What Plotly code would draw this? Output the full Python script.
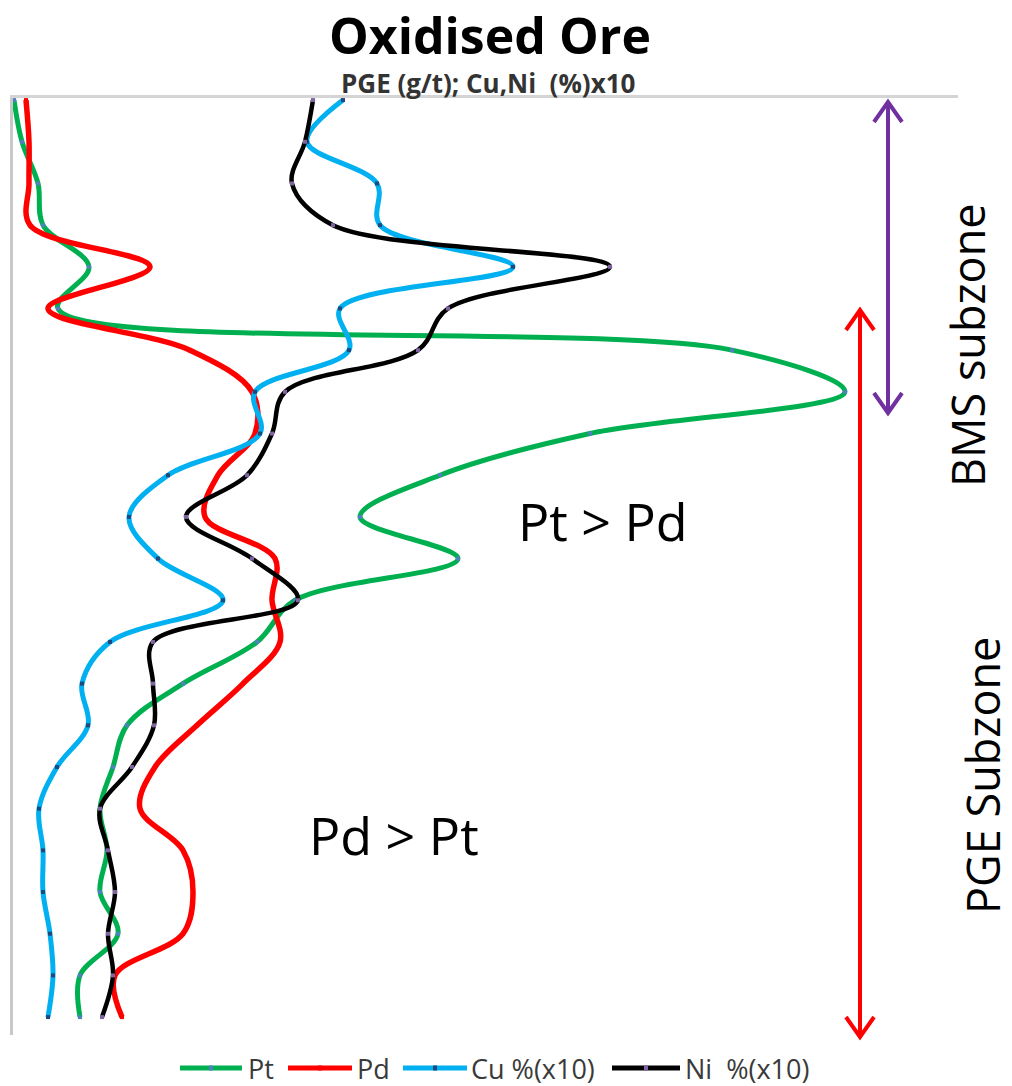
import plotly.graph_objects as go

# ---- data (depth sample index, top to bottom) ----
depth = [0, 1, 2, 3, 4, 5, 6, 7, 8, 9, 10, 11, 12, 13, 14, 15, 16, 17, 18, 19, 20, 21, 22]

pt = [0.01, 0.09, 0.25, 0.30, 0.76, 0.45, 7.19, 8.32, 5.77, 4.27, 3.47, 4.45,
      2.82, 2.44, 1.70, 1.14, 1.00, 0.87, 0.94, 0.87, 1.05, 0.67, 0.67]
pd_ = [0.13, 0.16, 0.16, 0.17, 1.37, 0.35, 1.77, 2.39, 2.42, 2.05, 1.92, 2.62,
       2.59, 2.67, 2.30, 1.84, 1.42, 1.27, 1.70, 1.80, 1.70, 1.02, 1.09]
cu = [3.30, 2.94, 3.64, 3.67, 5.00, 3.27, 3.36, 2.42, 2.47, 1.55, 1.16, 1.45,
      2.10, 0.97, 0.69, 0.75, 0.44, 0.26, 0.30, 0.30, 0.37, 0.40, 0.35]
ni = [3.00, 2.92, 2.79, 3.20, 5.97, 4.35, 4.05, 2.72, 2.59, 2.34, 1.73, 2.39,
      2.85, 1.40, 1.40, 1.41, 1.19, 0.87, 0.95, 1.02, 0.95, 1.00, 0.89]

names = ["Pt", "Pd", "Cu %(x10)", "Ni  %(x10)"]
series = [pt, pd_, cu, ni]
line_colors = ["#00b050", "#ff0000", "#00b0f0", "#000000"]
marker_colors = ["#4f81bd", "#ff0000", "#1f497d", "#8064a2"]
line_widths = [5, 5.5, 5, 4.5]

# page geometry (the page has an 8px body margin)
OFF = 8
W, H = 1012 - OFF, 1086 - OFF
L, R, T, B = 13, 958, 98, 1035  # plot area in page pixels


def px(x):
    return (x - L) / (R - L)


def py(y):
    return (B - y) / (B - T)


fig = go.Figure()
for name, vals, lc, mc, lw in zip(names, series, line_colors, marker_colors, line_widths):
    fig.add_trace(go.Scatter(
        x=vals, y=depth, name=name, mode="lines+markers", showlegend=False,
        line=dict(color=lc, width=lw, shape="spline", smoothing=1.0),
        marker=dict(color=mc, size=4, symbol="square", line=dict(width=0)),
    ))

shapes = []
# purple double arrow (BMS subzone)
pc = "#7030a0"
shapes.append(dict(type="line", xref="paper", yref="paper", x0=px(888), x1=px(888),
                   y0=py(104), y1=py(411), line=dict(color=pc, width=4)))
for tipy, d in [(102, 1), (413, -1)]:
    shapes.append(dict(type="path", xref="paper", yref="paper",
                       path="M{},{} L{},{} L{},{}".format(px(874), py(tipy + d * 20), px(888), py(tipy),
                                                        px(902), py(tipy + d * 20)),
                       line=dict(color=pc, width=4)))
# red double arrow (PGE subzone)
rc = "#ff0000"
shapes.append(dict(type="line", xref="paper", yref="paper", x0=px(860), x1=px(860),
                   y0=py(312), y1=py(1035), line=dict(color=rc, width=4)))
for tipy, d in [(310, 1), (1037, -1)]:
    shapes.append(dict(type="path", xref="paper", yref="paper",
                       path="M{},{} L{},{} L{},{}".format(px(846), py(tipy + d * 20), px(860), py(tipy),
                                                        px(874), py(tipy + d * 20)),
                       line=dict(color=rc, width=4)))

annotations = [
    dict(text="<b>Oxidised Ore</b>", xref="paper", yref="paper", x=px(490), y=py(35),
         showarrow=False, font=dict(family="Open Sans", size=50, color="#000000"),
         xanchor="center", yanchor="middle"),
    dict(text="<b>PGE (g/t); Cu,Ni  (%)x10</b>", xref="paper", yref="paper", x=px(488), y=py(83),
         showarrow=False, font=dict(family="Open Sans", size=26, color="#333333"),
         xanchor="center", yanchor="middle"),
    dict(text="Pt &gt; Pd", xref="paper", yref="paper", x=px(603), y=py(520),
         showarrow=False, font=dict(family="Open Sans", size=52, color="#000000"),
         xanchor="center", yanchor="middle"),
    dict(text="Pd &gt; Pt", xref="paper", yref="paper", x=px(394), y=py(834),
         showarrow=False, font=dict(family="Open Sans", size=52, color="#000000"),
         xanchor="center", yanchor="middle"),
    dict(text="BMS subzone", xref="paper", yref="paper", x=px(967), y=py(345),
         showarrow=False, textangle=-90, font=dict(family="Open Sans", size=45, color="#000000"),
         xanchor="center", yanchor="middle"),
    dict(text="PGE Subzone", xref="paper", yref="paper", x=px(983), y=py(776),
         showarrow=False, textangle=-90, font=dict(family="Open Sans", size=45, color="#000000"),
         xanchor="center", yanchor="middle"),
]

# legend drawn below the plot (line sample with a small marker, then the label)
leg_y = 1068
leg_lines = [(180, 242), (288, 352), (403, 467), (612, 680)]
leg_text_x = [246, 355, 469, 683]
for (x0, x1), tx, name, lc, mc in zip(leg_lines, leg_text_x, names, line_colors, marker_colors):
    shapes.append(dict(type="line", xref="paper", yref="paper", x0=px(x0), x1=px(x1),
                       y0=py(leg_y), y1=py(leg_y), line=dict(color=lc, width=5)))
    xm = (x0 + x1) / 2
    shapes.append(dict(type="rect", xref="paper", yref="paper", x0=px(xm - 2), x1=px(xm + 2),
                       y0=py(leg_y + 2.5), y1=py(leg_y - 2.5), fillcolor=mc, line=dict(width=0)))
    annotations.append(dict(text=name, xref="paper", yref="paper", x=px(tx), y=py(leg_y),
                            showarrow=False, xanchor="left", yanchor="middle",
                            font=dict(family="Open Sans", size=27, color="#3a3a3a")))

fig.update_layout(
    width=W, height=H,
    margin=dict(l=L - OFF, r=W - (R - OFF), t=T - OFF, b=H - (B - OFF), pad=0),
    paper_bgcolor="white", plot_bgcolor="white",
    showlegend=False,
    xaxis=dict(range=[0, (R - L) / 100.0], side="top", showline=True, linecolor="#d4d4d4",
               linewidth=3, showgrid=False, zeroline=False, showticklabels=False, ticks=""),
    yaxis=dict(range=[22.43, -0.05], showline=True, linecolor="#c8c8c8", linewidth=3,
               showgrid=False, zeroline=False, showticklabels=False, ticks=""),
    shapes=shapes,
    annotations=annotations,
)

fig.write_html("out.html")
